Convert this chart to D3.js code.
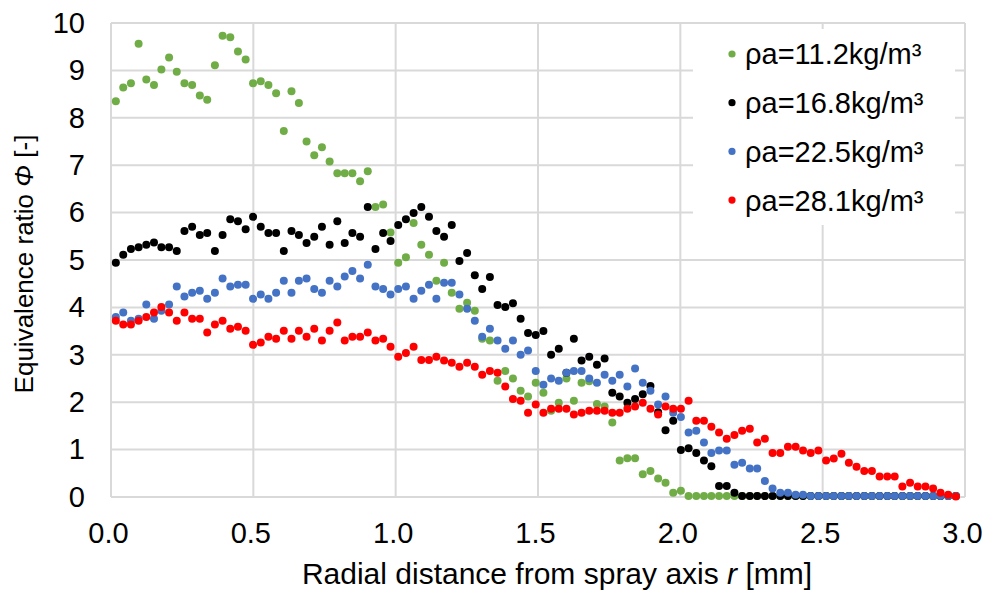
<!DOCTYPE html>
<html>
<head>
<meta charset="utf-8">
<script src="https://cdn.jsdelivr.net/npm/d3@7"></script>
<style>
  body { margin: 0; background: #fff; }
  text { font-family: "Liberation Sans", Arial, sans-serif; fill: #000; }
</style>
</head>
<body>
<div id="content"></div>
<script>
(function(d3) {

   // radial positions of the measurement points (mm)
   var r_mm = [
      0.017,0.043,0.070,0.097,0.124,0.151,0.177,0.204,0.231,0.258,
      0.285,0.312,0.338,0.365,0.392,0.419,0.446,0.473,0.499,0.526,
      0.553,0.580,0.607,0.634,0.660,0.687,0.714,0.741,0.768,0.795,
      0.821,0.848,0.875,0.902,0.929,0.956,0.982,1.009,1.036,1.063,
      1.090,1.117,1.143,1.170,1.197,1.224,1.251,1.278,1.304,1.331,
      1.358,1.385,1.412,1.439,1.465,1.492,1.519,1.546,1.573,1.600,
      1.626,1.653,1.680,1.707,1.734,1.761,1.787,1.814,1.841,1.868,
      1.895,1.922,1.948,1.975,2.002,2.029,2.056,2.083,2.109,2.136,
      2.163,2.190,2.217,2.244,2.270,2.297,2.324,2.351,2.378,2.405,
      2.431,2.458,2.485,2.512,2.539,2.566,2.592,2.619,2.646,2.673,
      2.700,2.727,2.753,2.780,2.807,2.834,2.861,2.888,2.914,2.941,
      2.968
   ];

   // equivalence ratio, rho_a = 11.2 kg/m3
   var phi_11_2 = [
      8.35,8.64,8.73,9.56,8.81,8.69,9.02,9.27,8.97,8.73,
      8.69,8.47,8.38,9.11,9.73,9.70,9.40,9.23,8.73,8.77,
      8.69,8.52,7.72,8.56,8.31,7.50,7.21,7.38,7.08,6.83,
      6.83,6.83,6.66,6.87,6.12,6.17,5.58,4.94,5.06,5.78,
      5.32,5.11,4.56,4.94,4.31,3.97,4.10,3.93,3.34,3.30,
      2.45,2.66,2.50,2.24,2.12,2.41,2.20,1.82,1.99,2.50,
      2.03,2.41,2.44,1.96,1.91,1.57,0.77,0.82,0.82,0.48,
      0.55,0.39,0.30,0.09,0.13,0.02,0.02,0.02,0.02,0.02,
      0.02,0.02,0.02,0.02,0.02,0.02,0.02,0.02,0.02,0.02,
      0.02,0.02,0.02,0.02,0.02,0.02,0.02,0.02,0.02,0.02,
      0.02,0.02,0.02,0.02,0.02,0.02,0.02,0.02,0.02,0.02,
      0.02
   ];

   // rho_a = 16.8 kg/m3
   var phi_16_8 = [
      4.94,5.11,5.23,5.27,5.32,5.37,5.27,5.27,5.19,5.61,
      5.70,5.53,5.57,5.19,5.53,5.86,5.82,5.65,5.91,5.70,
      5.57,5.57,5.19,5.61,5.53,5.36,5.49,5.70,5.32,5.82,
      5.36,5.57,5.49,6.12,5.23,5.57,5.40,5.74,5.86,5.99,
      6.12,5.91,5.61,5.49,5.74,4.98,5.15,4.68,4.39,4.64,
      4.05,4.01,4.09,3.76,3.46,3.42,3.50,3.00,3.13,2.62,
      3.34,2.88,2.96,2.79,2.92,2.20,2.12,1.99,2.07,2.17,
      2.34,1.79,1.41,1.61,0.99,1.03,0.93,0.77,0.65,0.23,
      0.23,0.09,0.02,0.02,0.02,0.02,0.02,0.02,0.02,0.02,
      0.02,0.02,0.02,0.02,0.02,0.02,0.02,0.02,0.02,0.02,
      0.02,0.02,0.02,0.02,0.02,0.02,0.02,0.02,0.02,0.02,
      0.02
   ];

   // rho_a = 22.5 kg/m3
   var phi_22_5 = [
      3.80,3.89,3.72,3.76,4.06,3.76,3.93,4.06,4.44,4.23,
      4.31,4.35,4.18,4.31,4.61,4.44,4.48,4.48,4.18,4.27,
      4.18,4.31,4.56,4.31,4.56,4.61,4.39,4.31,4.56,4.44,
      4.65,4.77,4.61,4.90,4.44,4.39,4.27,4.39,4.44,4.18,
      4.35,4.48,4.18,4.52,4.52,4.27,3.97,3.72,3.38,3.55,
      3.30,3.13,3.30,3.00,3.09,2.66,2.37,2.50,2.45,2.62,
      2.66,2.66,2.50,2.41,2.58,2.45,2.58,2.33,2.71,2.41,
      2.24,1.95,2.12,1.78,1.69,1.36,1.40,1.15,0.93,0.98,
      0.98,0.68,0.72,0.60,0.60,0.34,0.18,0.09,0.09,0.05,
      0.05,0.02,0.02,0.02,0.02,0.02,0.02,0.02,0.02,0.02,
      0.02,0.02,0.02,0.02,0.02,0.02,0.02,0.02,0.02,0.02,
      0.02
   ];

   // rho_a = 28.1 kg/m3
   var phi_28_1 = [
      3.72,3.64,3.64,3.72,3.80,3.89,4.01,3.89,3.72,3.89,
      3.76,3.76,3.47,3.64,3.72,3.55,3.59,3.51,3.21,3.26,
      3.38,3.34,3.51,3.34,3.51,3.38,3.55,3.30,3.51,3.68,
      3.30,3.38,3.38,3.47,3.30,3.34,3.17,2.96,3.04,3.17,
      2.89,2.89,2.96,2.88,2.83,2.75,2.83,2.75,2.58,2.66,
      2.62,2.33,2.07,2.03,1.78,1.95,1.78,1.86,1.86,1.86,
      1.74,1.78,1.82,1.82,1.82,1.78,1.78,1.86,1.91,1.99,
      1.86,1.74,1.91,1.86,1.86,2.03,1.61,1.61,1.48,1.36,
      1.23,1.31,1.40,1.44,1.15,1.23,0.93,0.93,1.06,1.06,
      0.98,0.93,0.98,0.77,0.81,0.91,0.72,0.64,0.55,0.55,
      0.43,0.43,0.43,0.22,0.30,0.22,0.22,0.18,0.09,0.05,
      0.01
   ];

   var series_names = ["ρa=11.2kg/m³", "ρa=16.8kg/m³", "ρa=22.5kg/m³", "ρa=28.1kg/m³"];
   var series_colors = ["#70ad47", "#000000", "#4472c4", "#ff0000"];
   var series_values = [phi_11_2, phi_16_8, phi_22_5, phi_28_1];

   var x_ticks = [0, 0.5, 1.0, 1.5, 2.0, 2.5, 3.0];
   var y_ticks = [0, 1, 2, 3, 4, 5, 6, 7, 8, 9, 10];

   var win_width = 986;
   var win_height = 590;

   // plot area in px
   var left = 111, right = 965, top = 23, bottom = 497;
   var font_px = "29px";

   var svg = d3.select("#content")
            .append("svg")
            .attr("width", win_width)
            .attr("height", win_height)
            .style("display", "block");

   var x = d3.scaleLinear().domain([0, 3]).range([left, right]);
   var y = d3.scaleLinear().domain([0, 10]).range([bottom, top]);

   // grid (also draws the frame)
   var grid = svg.append("g");
   grid.selectAll("line.h").data(y_ticks).enter().append("line")
       .attr("x1", left).attr("x2", right)
       .attr("y1", function(d) { return y(d); })
       .attr("y2", function(d) { return y(d); })
       .style("stroke", "#d9d9d9").style("stroke-width", 2);
   grid.selectAll("line.v").data(x_ticks).enter().append("line")
       .attr("y1", top).attr("y2", bottom)
       .attr("x1", function(d) { return x(d); })
       .attr("x2", function(d) { return x(d); })
       .style("stroke", "#d9d9d9").style("stroke-width", 2);

   // axes, only for the labels
   var xAxis = svg.append("g")
       .attr("transform", "translate(0," + bottom + ")")
       .call(d3.axisBottom(x).tickValues(x_ticks).tickFormat(d3.format(".1f")).tickSize(0).tickPadding(25));
   var yAxis = svg.append("g")
       .attr("transform", "translate(" + left + ",0)")
       .call(d3.axisLeft(y).tickValues(y_ticks).tickFormat(d3.format("d")).tickSize(0).tickPadding(26));
   [xAxis, yAxis].forEach(function(a) {
       a.select(".domain").remove();
       a.selectAll("text")
        .style("font-size", font_px)
        .style("font-family", "'Liberation Sans', Arial, sans-serif")
        .attr("fill", "#000");
   });
   xAxis.selectAll("text").attr("dx", -3);

   // points, green first so red ends on top
   series_values.forEach(function(vals, k) {
       svg.append("g").selectAll("circle")
          .data(vals).enter().append("circle")
          .attr("cx", function(d, i) { return x(r_mm[i]); })
          .attr("cy", function(d) { return y(d); })
          .attr("r", 4)
          .style("fill", series_colors[k]);
   });

   // legend
   var legend = svg.append("g");
   legend.append("rect")
         .attr("x", 693).attr("y", 29).attr("width", 262).attr("height", 196)
         .style("fill", "#fff");
   series_names.forEach(function(name, k) {
       var ly = 54 + k * 48.7;
       legend.append("circle").attr("cx", 732).attr("cy", ly).attr("r", 3.6)
             .style("fill", series_colors[k]);
       legend.append("text").attr("x", 745).attr("y", ly).attr("dy", "0.36em")
             .style("font-size", font_px).text(name);
   });

   // axis titles
   var xt = svg.append("text")
       .attr("x", 557).attr("y", 584)
       .attr("text-anchor", "middle")
       .style("font-size", "30px");
   xt.append("tspan").text("Radial distance from spray axis ");
   xt.append("tspan").style("font-style", "italic").text("r");
   xt.append("tspan").text(" [mm]");

   var yt = svg.append("text")
       .attr("transform", "translate(33,264) rotate(-90)")
       .attr("text-anchor", "middle")
       .style("font-size", "26px");
   yt.append("tspan").text("Equivalence ratio ");
   yt.append("tspan").style("font-style", "italic").text("Φ");
   yt.append("tspan").text(" [-]");

})(window.d3);
</script>
</body>
</html>
